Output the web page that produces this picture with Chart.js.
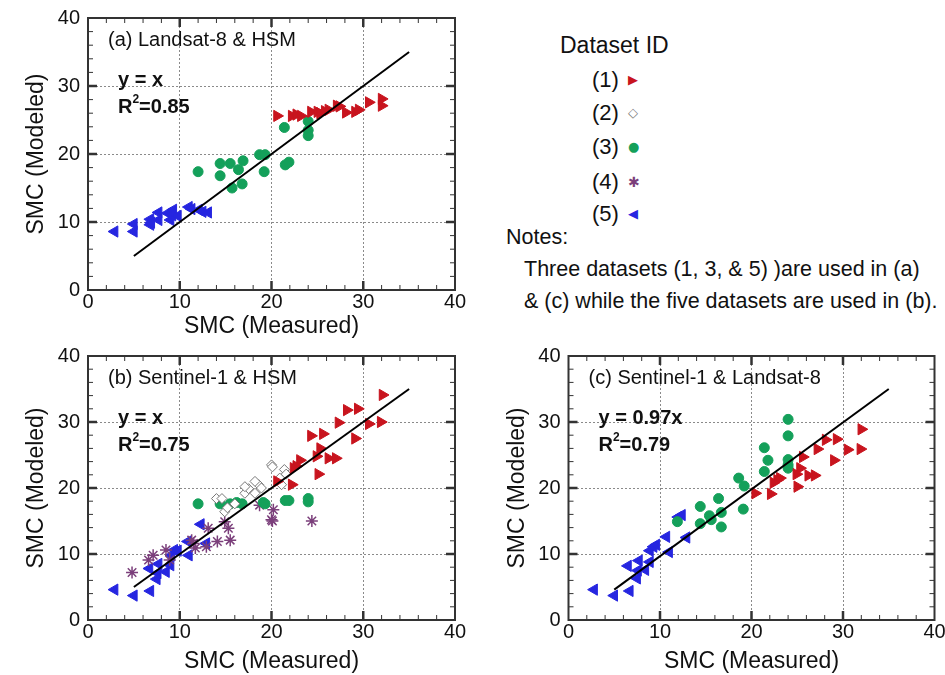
<!DOCTYPE html>
<html>
<head>
<meta charset="utf-8">
<script src="https://cdn.jsdelivr.net/npm/chart.js@4.4.1/dist/chart.umd.min.js"></script>
<style>
  body { margin: 0; background: #fff; width: 945px; height: 675px; position: relative; overflow: hidden;
         font-family: "Liberation Sans", Arial, sans-serif; color: #111; }
  .panel { position: absolute; }
  .txt { position: absolute; white-space: nowrap; line-height: 1; }
  .mk { position: absolute; font-family: "DejaVu Sans", sans-serif; line-height: 1; }
</style>
</head>
<body>
<div class="panel" style="left:0;top:0;width:470px;height:345px"><canvas id="chartA"></canvas></div>
<div class="panel" style="left:0;top:345px;width:470px;height:330px"><canvas id="chartB"></canvas></div>
<div class="panel" style="left:480px;top:345px;width:465px;height:330px"><canvas id="chartC"></canvas></div>

<div class="txt" style="left:560px;top:34px;font-size:23px">Dataset ID</div>
<div class="txt" style="left:592px;top:69px;font-size:22px">(1)</div>
<div class="txt" style="left:592px;top:102px;font-size:22px">(2)</div>
<div class="txt" style="left:592px;top:136px;font-size:22px">(3)</div>
<div class="txt" style="left:592px;top:171px;font-size:22px">(4)</div>
<div class="txt" style="left:592px;top:203px;font-size:22px">(5)</div>
<div class="mk" style="left:628px;top:73px;font-size:13px;color:#c8141e">&#9654;</div>
<div class="mk" style="left:628px;top:106px;font-size:13px;color:#777">&#9671;</div>
<div class="mk" style="left:628px;top:140px;font-size:13px;color:#14a05a">&#9679;</div>
<div class="mk" style="left:628px;top:175px;font-size:14px;color:#7b3f7b">&#10033;</div>
<div class="mk" style="left:628px;top:207px;font-size:13px;color:#2626e0">&#9664;</div>
<div class="txt" style="left:506px;top:227px;font-size:21.5px">Notes:</div>
<div class="txt" style="left:524px;top:259px;font-size:21.5px">Three datasets (1, 3, &amp; 5) )are used in (a)</div>
<div class="txt" style="left:524px;top:291px;font-size:21.5px">&amp; (c) while the five datasets are used in (b).</div>

<script>
// panel (a) Landsat-8 & HSM
const a1 = [[20.6,25.6],[22.2,25.6],[22.7,25.8],[23.2,25.6],[24.3,26.2],[25.0,26.2],[25.3,26.0],[25.8,26.3],[26.2,26.5],
  [27.1,27.1],[27.4,27.0],[28.1,26.1],[29.1,26.2],[29.5,26.5],[30.6,27.6],[32.0,28.1],[32.0,27.1]];
const a3 = [[12.0,17.4],[14.4,18.6],[14.4,16.8],[15.5,18.6],[16.4,17.7],[16.9,19.0],[15.7,15.0],[16.8,15.6],[18.7,19.9],
  [19.3,19.9],[19.2,17.4],[21.4,23.9],[24.0,24.8],[24.0,23.5],[24.0,22.7],[21.5,18.4],[21.9,18.8]];
const a5 = [[2.9,8.6],[5.0,9.7],[5.0,8.6],[6.8,10.4],[6.8,9.6],[6.9,9.9],[7.7,11.4],[7.7,10.3],[8.7,11.3],[9.0,10.3],
  [9.3,11.8],[9.2,11.0],[9.8,10.9],[11.0,12.2],[11.3,11.9],[12.1,11.8],[12.5,11.5],[13.1,11.4]];
const lineA = [[5,5],[35,35]];

// panel (b) Sentinel-1 & HSM
const b1 = [[32.1,34.1],[28.2,31.8],[29.4,32.0],[27.3,29.9],[30.6,29.7],[31.9,30.0],[24.3,27.9],[25.6,28.2],[29.1,27.5],
  [25.3,26.0],[24.9,24.8],[26.2,24.5],[27.0,24.5],[23.1,24.2],[22.7,23.3],[22.4,23.0],[25.1,22.1],[20.6,21.0],[22.2,20.5]];
const b2 = [[14.0,18.4],[14.6,18.4],[14.9,16.4],[15.2,17.0],[16.0,17.6],[17.1,19.2],[17.5,19.9],[18.2,19.2],[18.6,20.5],
  [18.9,20.0],[18.2,21.0],[20.0,23.5],[17.1,20.2],[20.1,23.2],[21.4,22.8],[21.6,22.1],[20.9,21.5],[21.1,20.5]];
const b3 = [[12.0,17.6],[14.4,17.6],[15.5,17.6],[16.2,17.8],[16.8,17.6],[19.1,17.8],[19.3,17.6],[21.5,18.1],[21.9,18.1],
  [24.0,18.4],[24.0,17.9]];
const b4 = [[4.8,7.2],[6.6,9.1],[7.1,9.8],[8.5,10.6],[8.9,9.1],[11.3,12.1],[11.5,11.6],[11.7,10.9],[12.9,11.1],[13.1,13.9],
  [14.1,11.9],[14.9,14.9],[15.3,13.9],[15.5,12.1],[18.7,17.4],[20.0,15.2],[20.2,16.7],[20.1,15.0],[24.4,15.0]];
const b5 = [[2.9,4.6],[5.0,3.7],[6.8,4.4],[6.7,7.8],[7.7,8.5],[7.6,7.1],[7.5,6.2],[8.5,7.3],[9.0,8.3],[9.1,9.8],[9.4,10.6],
  [9.8,10.5],[11.0,9.8],[10.9,11.9],[12.3,14.5],[12.9,11.6]];
const lineB = [[5,5],[35,35]];

// panel (c) Sentinel-1 & Landsat-8
const c1 = [[32.0,28.9],[28.1,27.3],[29.3,27.4],[27.2,25.9],[30.5,25.8],[31.9,25.9],[25.6,24.7],[29.0,24.2],[25.3,23.0],
  [24.9,22.1],[26.2,21.9],[26.9,21.9],[23.1,21.5],[22.8,21.2],[22.4,20.8],[25.0,20.2],[20.4,19.2],[22.1,19.1]];
const c3 = [[11.9,14.9],[14.4,17.2],[14.4,14.6],[15.4,15.8],[15.6,15.2],[16.4,18.4],[16.7,16.3],[16.7,14.1],[19.1,16.8],
  [19.2,20.3],[18.6,21.5],[24.0,30.4],[24.0,27.9],[21.4,26.1],[21.8,24.2],[24.0,24.3],[24.0,23.5],[24.0,23.0],[21.4,22.5]];
const c5 = [[2.8,4.6],[5.0,3.7],[6.7,4.4],[6.5,8.2],[7.7,9.0],[7.6,7.5],[7.5,6.3],[8.4,7.6],[8.9,8.8],[8.9,10.5],[9.3,11.1],
  [9.6,11.4],[11.0,10.3],[10.7,12.6],[12.0,15.6],[12.4,15.9],[12.9,12.5]];
const lineC = [[5,4.6],[35,35]];

const axisMin = 0, axisMax = 40, minorStep = 2;
const xTitle = 'SMC (Measured)';
const yTitle = 'SMC (Modeled)';

Chart.defaults.font.family = '"Liberation Sans", Arial, sans-serif';
Chart.defaults.color = '#111';

const pts = (arr) => arr.map(p => ({ x: p[0], y: p[1] }));

const styles = {
  1: { pointStyle: 'triangle', pointRotation: 90, pointRadius: 6.5, backgroundColor: '#c8141e', borderColor: '#c8141e', borderWidth: 1 },
  2: { pointStyle: 'rectRot', pointRadius: 5, backgroundColor: '#fff', borderColor: '#777', borderWidth: 1 },
  3: { pointStyle: 'circle', pointRadius: 5, backgroundColor: '#14a05a', borderColor: '#14a05a', borderWidth: 1 },
  4: { pointStyle: 'star', pointRadius: 6, backgroundColor: '#7b3f7b', borderColor: '#7b3f7b', borderWidth: 1.5 },
  5: { pointStyle: 'triangle', pointRotation: -90, pointRadius: 6.5, backgroundColor: '#2626e0', borderColor: '#2626e0', borderWidth: 1 },
};

// frame, inward tick marks and the panel notes
const framePlugin = {
  id: 'frame',
  afterDraw(chart, args, opts) {
    const { ctx, chartArea: ca, scales } = chart;
    ctx.save();
    ctx.strokeStyle = '#333';
    for (let v = axisMin + minorStep; v < axisMax; v += minorStep) {
      const major = v % 10 === 0;
      const len = major ? 9 : 5;
      ctx.lineWidth = major ? 2.5 : 1;
      const px = scales.x.getPixelForValue(v);
      const py = scales.y.getPixelForValue(v);
      ctx.beginPath();
      ctx.moveTo(px, ca.bottom); ctx.lineTo(px, ca.bottom - len);
      ctx.moveTo(px, ca.top); ctx.lineTo(px, ca.top + len);
      ctx.moveTo(ca.left, py); ctx.lineTo(ca.left + len, py);
      ctx.moveTo(ca.right, py); ctx.lineTo(ca.right - len, py);
      ctx.stroke();
    }
    ctx.lineWidth = 2;
    ctx.strokeRect(ca.left, ca.top, ca.right - ca.left, ca.bottom - ca.top);

    ctx.fillStyle = '#111';
    ctx.textBaseline = 'middle';
    ctx.textAlign = 'left';
    ctx.font = '20px "Liberation Sans", Arial, sans-serif';
    ctx.fillText(opts.title, ca.left + 20, ca.top + 22);
    ctx.font = 'bold 20px "Liberation Sans", Arial, sans-serif';
    ctx.fillText(opts.eq, ca.left + 30, ca.top + 62);
    let x = ca.left + 30;
    const y = ca.top + 89;
    ctx.fillText('R', x, y);
    x += ctx.measureText('R').width;
    ctx.font = 'bold 12px "Liberation Sans", Arial, sans-serif';
    ctx.fillText('2', x, y - 7);
    x += ctx.measureText('2').width;
    ctx.font = 'bold 20px "Liberation Sans", Arial, sans-serif';
    ctx.fillText('=' + opts.r2, x, y);
    ctx.restore();
  }
};

const gridColor = (c) => (c.tick && c.tick.value % 10 === 0 && c.tick.value > axisMin && c.tick.value < axisMax)
  ? '#8a8a8a' : 'rgba(0,0,0,0)';

function makeScale(horizontal, size, titlePad) {
  return {
    type: 'linear',
    min: axisMin,
    max: axisMax,
    afterFit: (s) => {
      if (horizontal) s.height = size; else s.width = size;
      s.paddingTop = 0; s.paddingBottom = 0; s.paddingLeft = 0; s.paddingRight = 0;
    },
    ticks: {
      stepSize: minorStep,
      autoSkip: false,
      maxRotation: 0,
      padding: horizontal ? 0 : 8,
      font: { size: 20 },
      color: '#111',
      callback: (v) => (v % 10 === 0 ? v : ''),
    },
    grid: { drawTicks: false, color: gridColor, lineWidth: 1 },
    border: { display: false, dash: [2, 2] },
    title: { display: true, text: horizontal ? xTitle : yTitle, font: { size: 23 }, color: '#111', padding: titlePad },
  };
}

function makePanel(el, sets, line, pad, xHeight, xTitlePad, notes) {
  const datasets = [{
    type: 'line',
    data: pts(line),
    borderColor: '#000',
    borderWidth: 2,
    pointRadius: 0,
    fill: false,
  }];
  sets.forEach(([id, arr]) => datasets.push(Object.assign({ data: pts(arr) }, styles[id])));
  return new Chart(document.getElementById(el), {
    type: 'scatter',
    data: { datasets },
    options: {
      responsive: true,
      maintainAspectRatio: false,
      animation: false,
      layout: { padding: pad },
      scales: {
        x: makeScale(true, xHeight, { top: 0, bottom: xTitlePad }),
        y: makeScale(false, 88, { top: 23, bottom: 0 }),
      },
      plugins: { legend: { display: false }, tooltip: { enabled: false }, frame: notes },
    },
    plugins: [framePlugin],
  });
}

makePanel('chartA', [[1, a1], [3, a3], [5, a5]], lineA,
  { top: 18, right: 15, left: 0, bottom: 0 }, 55, 5,
  { title: '(a) Landsat-8 & HSM', eq: 'y = x', r2: '0.85' });

makePanel('chartB', [[1, b1], [2, b2], [3, b3], [4, b4], [5, b5]], lineB,
  { top: 11, right: 15, left: 0, bottom: 0 }, 55, 0,
  { title: '(b) Sentinel-1 & HSM', eq: 'y = x', r2: '0.75' });

makePanel('chartC', [[1, c1], [3, c3], [5, c5]], lineC,
  { top: 11, right: 10.5, left: 0.5, bottom: 0 }, 55, 0,
  { title: '(c) Sentinel-1 & Landsat-8', eq: 'y = 0.97x', r2: '0.79' });
</script>
</body>
</html>
